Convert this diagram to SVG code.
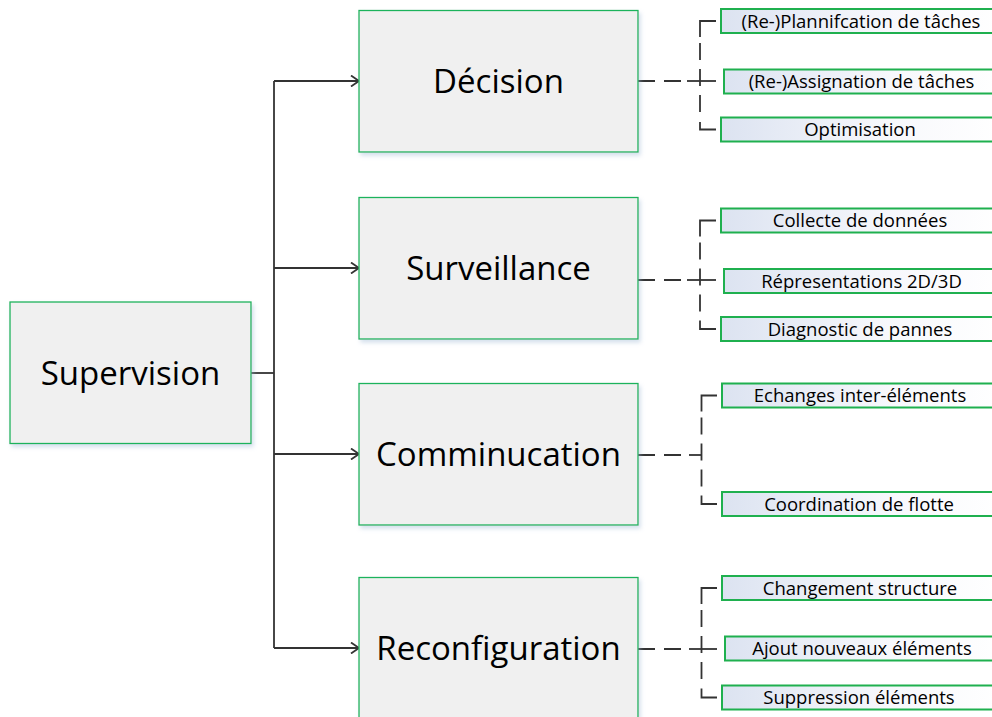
<svg xmlns="http://www.w3.org/2000/svg" width="992" height="717" viewBox="0 0 992 717">
<style>
.main{fill:#f0f0f0;stroke:#1db35b;stroke-width:1.3}
.leaf{fill:url(#lg);stroke:#1fb04f;stroke-width:2}
.mt{font-family:"Open Sans","Noto Sans",sans-serif;font-size:33px;fill:#000;text-anchor:middle}
.lt{font-family:"Open Sans","Noto Sans",sans-serif;font-size:18.5px;fill:#000;text-anchor:middle}
.solid{fill:none;stroke:#333;stroke-width:1.8}
.dash{fill:none;stroke:#333;stroke-width:1.8;stroke-dasharray:17 9}
.br{fill:none;stroke:#333;stroke-width:1.8}
</style>
<defs>
<linearGradient id="lg" x1="0" y1="0" x2="1" y2="0">
<stop offset="0" stop-color="#dce3f1"/>
<stop offset="0.6" stop-color="#f7f8fc"/>
<stop offset="1" stop-color="#ffffff"/>
</linearGradient>
<filter id="sh" x="-5%" y="-5%" width="115%" height="120%">
<feDropShadow dx="2" dy="3" stdDeviation="2" flood-color="#9fbad6" flood-opacity="0.45"/>
</filter>
<marker id="arr" markerWidth="12" markerHeight="12" refX="10" refY="6" orient="auto" markerUnits="userSpaceOnUse">
<path d="M2,0.5 L10,6 L2,11.5" fill="none" stroke="#333" stroke-width="1.8"/>
</marker>
</defs>

<g id="connectors">
<path class="solid" d="M251,373 H274"/>
<path class="solid" d="M274,81 V648"/>
<path class="solid" d="M274,81 H359" marker-end="url(#arr)"/>
<path class="solid" d="M274,268 H359" marker-end="url(#arr)"/>
<path class="solid" d="M274,454 H359" marker-end="url(#arr)"/>
<path class="solid" d="M274,648 H359" marker-end="url(#arr)"/>

<!-- Décision branch -->
<path class="dash" d="M638,81 H687"/>
<path class="br" d="M687,81 H716"/>
<path class="br" d="M716,21 H700 V37"/>
<path class="dash" d="M700,43 V116"/>
<path class="br" d="M700,122 V129.5 H716"/>

<!-- Surveillance branch -->
<path class="dash" d="M638,280 H687"/>
<path class="br" d="M687,280 H716"/>
<path class="br" d="M716,220.5 H700 V236.5"/>
<path class="dash" d="M700,242.5 V315"/>
<path class="br" d="M700,320.5 V329 H716"/>

<!-- Comminucation branch -->
<path class="dash" d="M638,455 H689"/>
<path class="br" d="M689,455 H701.5"/>
<path class="br" d="M717,395.5 H701.5 V411.5"/>
<path class="dash" d="M701.5,417.5 V490"/>
<path class="br" d="M701.5,495.5 V504 H717"/>

<!-- Reconfiguration branch -->
<path class="dash" d="M638,649 H689"/>
<path class="br" d="M689,649 H717"/>
<path class="br" d="M717,588 H701.5 V604"/>
<path class="dash" d="M701.5,610 V683"/>
<path class="br" d="M701.5,688.5 V697.5 H717"/>
</g>

<g id="supervision">
<rect class="main" filter="url(#sh)" x="10" y="302" width="241" height="141.5"/>
<text class="mt" x="130.5" y="384.5">Supervision</text>
</g>
<g id="decision">
<rect class="main" filter="url(#sh)" x="359" y="10.5" width="279" height="141.5"/>
<text class="mt" x="498.5" y="93">Décision</text>
</g>
<g id="surveillance">
<rect class="main" filter="url(#sh)" x="359" y="197.5" width="279" height="141.5"/>
<text class="mt" x="498.5" y="280">Surveillance</text>
</g>
<g id="comminucation">
<rect class="main" filter="url(#sh)" x="359" y="383.5" width="279" height="141.5"/>
<text class="mt" x="498.5" y="466">Comminucation</text>
</g>
<g id="reconfiguration">
<rect class="main" filter="url(#sh)" x="359" y="577.5" width="279" height="141.5"/>
<text class="mt" x="498.5" y="660">Reconfiguration</text>
</g>

<g id="leaf-plannification">
<rect class="leaf" x="721" y="9" width="280" height="24"/>
<text class="lt" x="861" y="27.5">(Re-)Plannifcation de tâches</text>
</g>
<g id="leaf-assignation">
<rect class="leaf" x="724" y="69.5" width="280" height="24"/>
<text class="lt" x="861.5" y="88">(Re-)Assignation de tâches</text>
</g>
<g id="leaf-optimisation">
<rect class="leaf" x="721" y="117.5" width="280" height="24"/>
<text class="lt" x="860" y="136">Optimisation</text>
</g>

<g id="leaf-collecte">
<rect class="leaf" x="721" y="208.5" width="280" height="24"/>
<text class="lt" x="860" y="227">Collecte de données</text>
</g>
<g id="leaf-representations">
<rect class="leaf" x="724" y="269" width="280" height="24"/>
<text class="lt" x="861.5" y="287.5">Répresentations 2D/3D</text>
</g>
<g id="leaf-diagnostic">
<rect class="leaf" x="721" y="317" width="280" height="24"/>
<text class="lt" x="860" y="335.5">Diagnostic de pannes</text>
</g>

<g id="leaf-echanges">
<rect class="leaf" x="722" y="383.5" width="280" height="24"/>
<text class="lt" x="860" y="402">Echanges inter-éléments</text>
</g>
<g id="leaf-coordination">
<rect class="leaf" x="722" y="492" width="280" height="24"/>
<text class="lt" x="859" y="510.5">Coordination de flotte</text>
</g>

<g id="leaf-changement">
<rect class="leaf" x="722" y="576" width="280" height="24"/>
<text class="lt" x="860" y="594.5">Changement structure</text>
</g>
<g id="leaf-ajout">
<rect class="leaf" x="725" y="636.5" width="280" height="24"/>
<text class="lt" x="862" y="655">Ajout nouveaux éléments</text>
</g>
<g id="leaf-suppression">
<rect class="leaf" x="722" y="685.5" width="280" height="24"/>
<text class="lt" x="859" y="704">Suppression éléments</text>
</g>
</svg>
